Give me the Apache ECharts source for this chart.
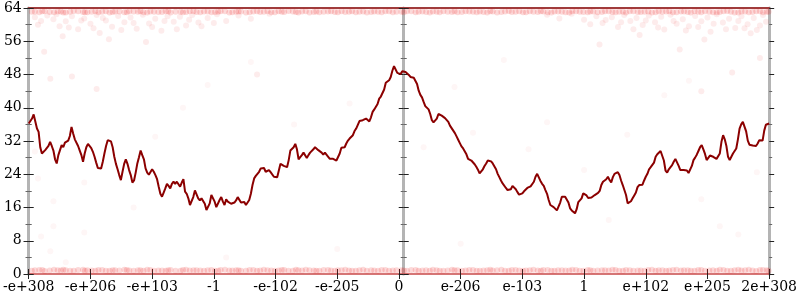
<!DOCTYPE html>
<html>
<head>
<meta charset="utf-8">
<script src="https://cdn.jsdelivr.net/npm/echarts@6/dist/echarts.min.js"></script>
<style>html,body{margin:0;padding:0;background:#fff}#c{width:800px;height:300px}</style>
</head>
<body>
<div id="c"></div>
<script>
// x tick labels (13 ticks, positions 0..12)
const xTickLabels = ['-e+308','-e+206','-e+103','-1','-e-102','-e-205','0','e-206','e-103','1','e+102','e+205','2e+308'];
const yTicks = [0, 8, 16, 24, 32, 40, 48, 56, 64];

// main line, left half (x 0..6) and right half (x 6..12), equally spaced samples
const lineLeft = [36.2,36.2,37.4,38.4,38.4,35.0,34.2,30.5,29.0,29.2,29.8,29.7,30.8,31.8,30.8,29.7,27.6,26.6,28.6,29.8,
31.0,30.5,31.6,31.4,32.1,33.2,35.4,33.8,32.4,32.2,30.8,29.7,28.6,27.0,29.0,30.5,31.3,31.1,30.3,29.4,
28.2,26.8,25.5,25.2,25.4,27.0,29.0,30.8,32.2,32.6,31.9,30.5,28.2,26.5,25.2,23.8,22.6,24.6,26.5,27.6,
26.5,25.0,23.8,22.0,22.5,24.4,26.6,28.1,29.7,28.6,27.6,25.4,24.4,23.9,23.6,25.2,24.6,23.8,22.8,21.0,
19.3,18.6,19.6,20.6,21.7,21.2,20.6,21.7,22.2,21.7,22.2,21.8,21.0,22.0,22.8,19.8,19.3,18.2,16.6,16.2,
18.5,20.1,20.2,18.2,17.7,18.2,18.6,16.9,15.4,15.3,17.0,19.0,19.0,17.4,16.1,16.2,17.8,18.5,17.4,16.6,
18.0,17.4,17.4,16.9,16.7,17.2,17.7,18.5,18.2,17.2,16.9,17.3,16.6,16.4,17.8,19.3,21.4,23.0,23.6,24.0,
24.6,25.4,25.2,25.5,24.6,24.2,25.0,24.5,24.1,23.4,23.0,23.3,24.9,26.5,26.5,26.0,25.7,25.7,27.4,29.7,
30.1,30.5,31.3,30.0,27.6,28.1,28.6,29.2,28.9,27.9,28.6,29.2,29.6,30.0,30.5,30.8,29.8,29.7,29.2,28.7,
29.2,29.0,28.2,27.7,27.6,27.7,27.4,27.3,27.4,29.0,30.4,30.2,30.5,31.4,32.1,32.6,32.8,33.4,34.4,35.0,
35.9,36.8,36.9,37.0,37.3,37.4,37.4,36.7,37.7,39.0,39.6,40.0,40.9,42.2,42.7,43.0,44.4,46.0,46.3,46.6,
47.4,48.9,50.0,49.7,48.4,48.2];
const lineRight = [48.1,48.8,48.9,48.6,48.3,47.9,47.4,47.3,47.2,46.8,45.7,44.1,43.1,42.5,41.4,40.4,40.6,39.6,38.5,37.0,
36.5,36.6,37.4,38.5,38.5,38.1,37.8,37.5,37.1,36.6,35.7,35.1,34.5,33.9,33.1,32.3,31.5,30.7,30.2,29.8,
28.8,27.7,27.4,27.3,26.9,26.4,25.8,25.1,24.2,24.1,25.2,26.0,26.6,27.3,27.5,27.1,26.6,26.3,25.2,24.1,
23.3,22.5,21.8,21.4,20.7,20.2,20.0,20.4,21.2,21.1,20.4,19.7,19.1,18.8,19.4,19.9,20.3,20.7,21.0,21.1,
21.3,22.2,23.4,24.1,23.7,22.4,21.7,21.2,20.2,19.3,17.8,16.6,16.2,16.1,15.7,15.3,15.6,17.2,18.6,18.9,
18.6,18.3,17.2,15.8,15.3,14.9,14.6,15.6,17.3,17.7,18.2,19.4,19.4,18.9,18.3,18.1,18.4,18.7,19.0,19.3,
19.5,20.0,21.4,22.2,22.5,22.8,23.4,22.6,22.0,23.3,24.1,24.4,24.5,23.8,22.5,21.4,20.2,19.0,17.0,16.6,
17.5,18.2,18.9,19.6,20.9,21.4,21.3,21.5,22.5,23.4,24.1,25.2,25.7,25.4,26.8,28.2,28.8,29.2,29.6,29.2,
27.3,24.9,24.4,25.2,25.6,26.2,27.0,27.7,27.4,26.0,25.0,24.9,25.0,25.3,24.9,24.3,24.2,26.0,27.4,28.0,
28.7,29.6,30.5,31.0,30.0,28.9,27.4,27.8,28.5,28.1,28.2,28.3,27.7,27.8,29.0,31.8,33.4,32.4,30.8,28.2,
27.4,28.2,29.0,29.4,30.2,32.4,35.0,36.0,36.6,36.4,34.3,32.1,31.1,31.3,30.9,30.6,30.8,31.4,32.2,32.4,
32.1,34.5,35.9,36.2,36.2];

// faint sample points
const bandX = [0.05,0.17,0.26,0.41,0.52,0.6,0.73,0.88,0.95,1.08,1.19,1.31,1.4,1.55,1.63,1.77,1.86,1.97,2.1,2.22,
2.3,2.46,2.55,2.67,2.78,2.9,3.02,3.11,3.25,3.36,3.44,3.58,3.7,3.81,3.93,4.05,4.14,4.28,4.37,4.49,
4.62,4.71,4.85,4.96,5.07,5.19,5.3,5.42,5.55,5.66,5.78,5.9,6.04,6.13,6.27,6.38,6.5,6.61,6.72,6.86,
6.95,7.08,7.2,7.31,7.43,7.52,7.66,7.78,7.89,8.01,8.12,8.25,8.34,8.47,8.58,8.7,8.81,8.93,9.06,9.15,
9.29,9.4,9.51,9.63,9.74,9.87,9.98,10.1,10.21,10.33,10.44,10.57,10.68,10.79,10.9,11.03,11.15,11.26,11.38,11.5,
11.61,11.73,11.85,11.96];
const bandX2 = [0.1,0.22,0.34,0.47,0.56,0.67,0.8,0.91,1.02,1.13,1.25,1.36,1.47,1.59,1.7,1.81,1.92,2.03,2.16,2.26,
2.38,2.5,2.61,2.72,2.84,2.96,3.07,3.18,3.3,3.4,3.52,3.64,3.75,3.87,3.99,4.1,4.21,4.33,4.43,4.55,
4.66,4.78,4.9,5.01,5.13,5.24,5.36,5.48,5.6,5.72,5.84,5.96,6.08,6.2,6.32,6.44,6.55,6.66,6.79,6.9,
7.02,7.14,7.26,7.37,7.48,7.59,7.72,7.83,7.95,8.06,8.18,8.3,8.41,8.52,8.64,8.76,8.87,8.99,9.1,9.22,
9.34,9.46,9.57,9.68,9.8,9.92,10.04,10.16,10.27,10.38,10.5,10.62,10.73,10.85,10.96,11.09,11.2,11.32,11.44,11.55,
11.67,11.79,11.9,11.99];
const bottomBandY = [0.8,0.95,0.75,1.0,0.85,0.9,0.78,1.02,0.88,0.8,0.97,0.76,0.92,1.0,0.83,0.9,0.78,0.98,0.86,0.8,
0.95,0.77,1.03,0.88,0.82,0.93,0.76,0.99,0.85,0.9,0.8,0.96,0.79,1.0,0.87,0.83,0.94,0.77,0.9,1.01,
0.84,0.8,0.97,0.78,0.92,0.86,0.81,1.0,0.89,0.76,0.95,0.83,0.9,0.79,0.98,0.85,0.8,0.93,0.77,1.02,
0.88,0.82,0.96,0.78,0.91,0.85,1.0,0.8,0.94,0.76,0.89,0.83,0.97,0.79,0.92,0.86,1.01,0.8,0.95,0.78,
0.9,0.84,0.99,0.77,0.93,0.87,0.81,1.0,0.89,0.76,0.96,0.83,0.91,0.79,0.98,0.85,0.8,0.94,0.78,1.02,
0.88,0.82,0.95,0.9];
const topBandY = [63.1,62.95,63.2,63.0,63.15,62.9,63.25,63.05,62.95,63.2,63.1,62.92,63.18,63.0,63.22,63.08,62.96,63.15,63.02,63.24,
62.93,63.12,63.06,63.2,62.98,63.14,63.03,63.22,62.94,63.1,63.17,63.0,63.23,63.07,62.97,63.19,63.04,63.13,62.91,63.21,
63.06,62.99,63.16,63.02,63.24,63.09,62.95,63.18,63.01,63.12,63.2,62.97,63.08,63.23,63.0,63.15,62.93,63.11,63.19,63.04,
62.98,63.22,63.07,63.14,62.92,63.17,63.03,63.25,63.1,62.96,63.2,63.05,63.13,62.94,63.18,63.0,63.22,63.08,62.97,63.16,
63.03,63.24,62.95,63.11,63.19,63.02,63.07,62.93,63.21,63.14,62.99,63.17,63.05,63.23,62.96,63.12,63.0,63.2,63.09,62.94,
63.15,63.04,63.22,63.1];
const upperPoints = [[0.1,61.8],[0.2,60.9],[0.3,62.2],[0.4,61.3],[0.5,59.6],[0.6,60.8],[0.7,62.0],[0.8,58.9],[0.9,61.5],[1.0,60.2],
[1.1,62.3],[1.15,58.0],[1.25,61.0],[1.35,59.5],[1.45,62.1],[1.55,60.6],[1.65,61.7],[1.75,59.0],[1.85,62.4],[1.95,60.3],
[2.05,61.4],[2.15,58.5],[2.25,62.0],[2.35,60.7],[2.45,61.9],[2.55,59.8],[2.65,62.3],[2.75,60.5],[2.9,61.6],[3.05,62.5],
[3.2,60.9],[3.4,62.2],[3.6,61.4],[3.9,62.6],[0.55,57.2],[1.3,56.5],[1.9,55.8],[0.25,53.5],[0.35,47.0],[1.1,44.5],
[0.7,47.5],[3.7,48.0],[0.15,60.0],[0.45,62.5],[0.65,59.3],[0.85,61.0],[1.05,59.1],[1.2,61.6],[1.5,58.7],[1.7,60.4],
[2.0,59.4],[2.2,60.9],[2.4,58.9],[2.6,61.2],[2.8,59.6],[3.0,60.4],
[8.4,62.4],[8.6,61.5],[8.8,62.6],[9.0,61.2],[9.2,62.0],[9.3,60.4],[9.45,61.8],[9.55,59.4],[9.65,62.3],[9.75,60.9],
[9.85,61.6],[9.95,59.9],[10.05,62.2],[10.15,60.6],[10.25,61.9],[10.3,58.8],[10.4,62.4],[10.5,60.2],[10.6,61.3],[10.7,59.6],
[10.8,62.1],[10.9,60.8],[11.0,61.7],[11.05,58.3],[11.15,62.5],[11.25,60.5],[11.35,61.4],[11.45,59.2],[11.55,62.0],[11.65,60.1],
[11.75,61.6],[11.8,58.7],[11.9,62.3],[11.95,60.7],[9.9,57.5],[10.95,56.4],[11.7,57.9],[9.25,55.2],[10.55,54.0],[11.85,52.0],
[11.4,48.5],[10.9,44.0],[9.1,60.1],[9.35,61.1],[9.6,60.6],[9.8,58.9],[10.0,61.0],[10.2,59.3],[10.45,60.9],[10.65,58.6],
[10.85,59.4],[11.1,60.2],[11.3,58.9],[11.5,60.9],[11.6,59.1],[11.85,59.8]];
const midPoints = [[0.2,9.0],[0.4,11.5],[0.35,5.5],[0.9,10.0],[0.6,2.8],[3.2,4.0],[5.0,6.0],[7.0,7.3],[9.4,13.0],[10.9,18.0],
[11.5,9.5],[11.2,11.5],[2.5,40.0],[4.3,36.0],[6.9,45.0],[8.4,36.5],[8.1,30.0],[9.7,33.5],[10.3,43.0],[11.6,34.5],
[0.9,22.0],[0.4,17.5],[1.7,16.0],[2.9,45.5],[5.2,41.0],[7.2,34.0],[9.0,25.0],[10.7,46.5],[11.8,24.5],[11.7,30.5],
[0.1,29.5],[0.15,23.0],[6.4,30.5],[7.7,51.5],[3.6,51.0],[2.05,33.0]];

// ---- build ----
const lineValues = lineLeft.concat(lineRight);
const xMax = xTickLabels.length - 1;
const step = xMax / (lineValues.length - 1);
const lineData = lineValues.map((v, i) => [i * step, v]);
const bandData = [];
const nb = Math.min(bandX.length, bottomBandY.length, topBandY.length);
for (let i = 0; i < nb; i++) {
  bandData.push([bandX[i], bottomBandY[i]]);
  bandData.push([bandX[i], topBandY[i]]);
}
const nb2 = Math.min(bandX2.length, bottomBandY.length, topBandY.length);
for (let i = 0; i < nb2; i++) {
  bandData.push([bandX2[i], topBandY[nb2 - 1 - i]]);
  bandData.push([bandX2[i], bottomBandY[nb2 - 1 - i]]);
}

const FONT = 'DejaVu Serif';
const yMin = yTicks[0], yMax = yTicks[yTicks.length - 1], yInt = yTicks[1] - yTicks[0];
function yAx(opts) {
  return Object.assign({
    type: 'value', min: yMin, max: yMax, interval: yInt, position: 'left', offset: 0,
    splitLine: { show: false },
    axisLine: { show: false },
    axisTick: { show: true, length: 5, inside: false, lineStyle: { color: '#222', width: 1 } },
    minorTick: { show: true, splitNumber: 2, length: 3, lineStyle: { color: '#666', width: 1 } },
    axisLabel: { show: false }
  }, opts);
}
const grayLine = { show: true, onZero: false, lineStyle: { color: '#b4b4b4', width: 3 } };
const tickIn = { show: true, length: 5, inside: true, lineStyle: { color: '#222', width: 1 } };
const minorIn = { show: true, splitNumber: 2, length: 3, lineStyle: { color: '#666', width: 1 } };

const option = {
  animation: false,
  backgroundColor: '#fff',
  grid: { left: 24, right: 26, top: 8, bottom: 26, containLabel: false },
  xAxis: [
    { type: 'value', min: 0, max: xMax, interval: 1, position: 'bottom',
      splitLine: { show: false },
      axisLine: { show: true, onZero: false, lineStyle: { color: '#c84a4a', width: 1.5 } },
      axisTick: { show: true, length: 5, lineStyle: { color: '#222' } },
      axisLabel: { show: true, margin: 6, fontFamily: FONT, fontSize: 14, color: '#000', interval: 0,
        formatter: v => xTickLabels[Math.round(v)] } },
    { type: 'value', min: 0, max: xMax, interval: 1, position: 'bottom',
      splitLine: { show: false }, axisLine: { show: false },
      axisTick: { show: true, inside: true, length: 5, lineStyle: { color: '#222' } },
      axisLabel: { show: false } },
    { type: 'value', min: 0, max: xMax, interval: 1, position: 'top',
      splitLine: { show: false },
      axisLine: { show: true, onZero: false, lineStyle: { color: '#a03c3c', width: 2 } },
      axisTick: { show: false }, axisLabel: { show: false } }
  ],
  yAxis: [
    yAx({ axisLine: grayLine, axisLabel: { show: true, margin: 7, fontFamily: FONT, fontSize: 14, color: '#000' } }),
    yAx({ axisTick: tickIn, minorTick: minorIn }),
    yAx({ offset: -375, axisLine: grayLine }),
    yAx({ offset: -375, axisTick: tickIn, minorTick: minorIn }),
    yAx({ position: 'right', axisLine: grayLine }),
    yAx({ position: 'right', axisTick: tickIn, minorTick: minorIn })
  ],
  series: [
    { type: 'scatter', xAxisIndex: 0, yAxisIndex: 0, data: bandData, symbolSize: 6,
      itemStyle: { color: 'rgba(235,20,20,0.2)' }, silent: true, z: 1 },
    { type: 'scatter', xAxisIndex: 0, yAxisIndex: 0, data: upperPoints, symbolSize: 6,
      itemStyle: { color: 'rgba(235,20,20,0.1)' }, silent: true, z: 1 },
    { type: 'scatter', xAxisIndex: 0, yAxisIndex: 0, data: midPoints, symbolSize: 6,
      itemStyle: { color: 'rgba(235,20,20,0.05)' }, silent: true, z: 1 },
    { type: 'line', xAxisIndex: 0, yAxisIndex: 0, data: lineData, showSymbol: false,
      lineStyle: { color: '#8b0000', width: 2 }, z: 3, silent: true }
  ]
};
echarts.init(document.getElementById('c'), null, { renderer: 'canvas' }).setOption(option);
</script>
</body>
</html>
